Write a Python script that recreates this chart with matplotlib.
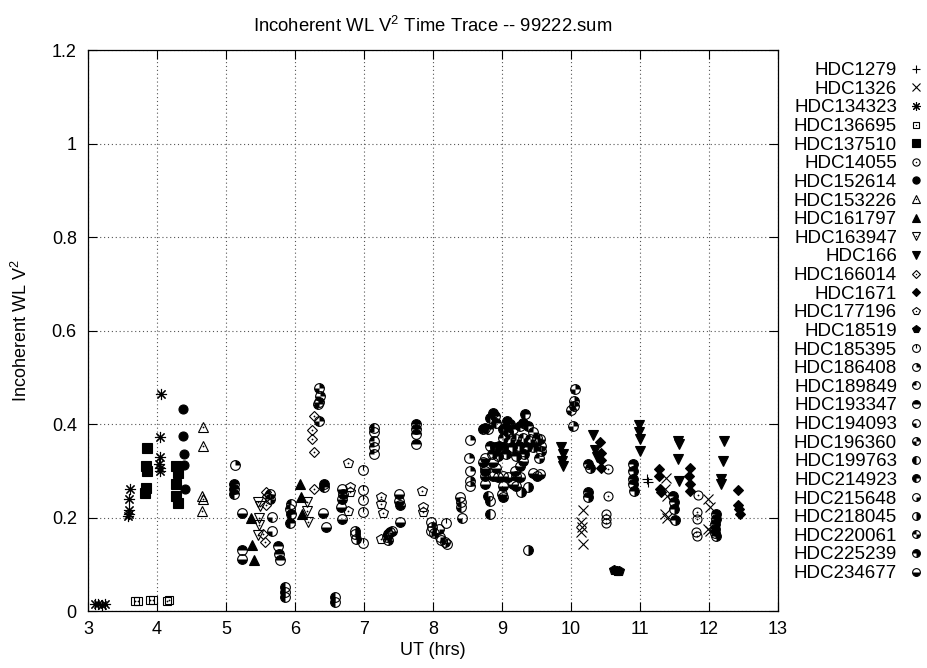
import matplotlib
matplotlib.use('Agg')
import matplotlib.pyplot as plt
from matplotlib.path import Path
from matplotlib.markers import MarkerStyle
from matplotlib.ticker import FormatStrFormatter

plt.rcParams['font.family'] = ['Liberation Sans', 'DejaVu Sans']
plt.rcParams['mathtext.fontset'] = 'custom'
plt.rcParams['mathtext.rm'] = 'Liberation Sans'
plt.rcParams['mathtext.it'] = 'Liberation Sans:italic'
plt.rcParams['font.size'] = 13

# UT (hrs) and incoherent white-light V^2 per calibrator star
x_hdc1279 = [11.10, 11.12]
y_hdc1279 = [0.282, 0.277]
x_hdc1326 = [10.18, 10.15, 10.16, 10.15, 10.18, 11.37, 11.36, 11.39, 11.36, 11.39, 11.99, 12.01, 11.99, 12.01]
y_hdc1326 = [0.216, 0.190, 0.180, 0.169, 0.144, 0.284, 0.261, 0.247, 0.208, 0.200, 0.240, 0.222, 0.176, 0.172]
x_hdc134323 = [3.10, 3.15, 3.20, 3.25, 3.61, 3.60, 3.59, 3.59, 3.58, 4.06, 4.04, 4.05, 4.03, 4.04, 4.05]
y_hdc134323 = [0.014, 0.015, 0.013, 0.014, 0.262, 0.240, 0.217, 0.208, 0.203, 0.464, 0.372, 0.330, 0.315, 0.305, 0.300]
x_hdc136695 = [3.68, 3.72, 3.90, 3.94, 4.14, 4.18]
y_hdc136695 = [0.021, 0.022, 0.024, 0.023, 0.022, 0.023]
x_hdc137510 = [3.85, 3.84, 3.85, 3.84, 3.83, 4.27, 4.30, 4.27, 4.28, 4.30]
y_hdc137510 = [0.349, 0.310, 0.300, 0.264, 0.253, 0.310, 0.296, 0.272, 0.247, 0.232]
x_hdc14055 = [10.53, 10.53, 10.51, 10.51, 10.50, 11.84, 11.83, 11.82, 11.81, 11.82]
y_hdc14055 = [0.303, 0.247, 0.207, 0.196, 0.189, 0.249, 0.211, 0.197, 0.169, 0.160]
x_hdc152614 = [4.38, 4.38, 4.39, 4.39, 4.40]
y_hdc152614 = [0.432, 0.375, 0.336, 0.313, 0.262]
x_hdc153226 = [4.67, 4.66, 4.65, 4.66, 4.65]
y_hdc153226 = [0.394, 0.353, 0.245, 0.240, 0.213]
x_hdc161797 = [5.36, 5.38, 5.40, 6.07, 6.09, 6.10]
y_hdc161797 = [0.199, 0.142, 0.110, 0.272, 0.243, 0.208]
x_hdc163947 = [5.46, 5.48, 5.48, 5.46, 5.50, 6.18, 6.18, 6.19]
y_hdc163947 = [0.233, 0.200, 0.183, 0.162, 0.225, 0.233, 0.215, 0.190]
x_hdc166 = [9.86, 9.88, 9.87, 9.88, 10.32, 10.35, 10.37, 10.98, 10.99, 11.00, 11.00,
            11.55, 11.56, 11.55, 11.57, 12.21, 12.20, 12.18, 12.18]
y_hdc166 = [0.350, 0.336, 0.320, 0.311, 0.376, 0.344, 0.330, 0.397, 0.382, 0.367, 0.343,
            0.364, 0.357, 0.325, 0.279, 0.364, 0.321, 0.282, 0.272]
x_hdc166014 = [5.58, 5.59, 5.58, 5.54, 5.56, 6.27, 6.25, 6.25, 6.28, 6.28]
y_hdc166014 = [0.254, 0.247, 0.226, 0.165, 0.147, 0.417, 0.387, 0.367, 0.340, 0.260]
x_hdc1671 = [10.42, 10.43, 10.43, 10.44, 11.28, 11.27, 11.29, 11.30, 11.72, 11.71, 11.73, 11.72,
             12.42, 12.42, 12.43, 12.45]
y_hdc1671 = [0.362, 0.337, 0.323, 0.307, 0.303, 0.289, 0.261, 0.255, 0.306, 0.289, 0.272, 0.257,
             0.259, 0.226, 0.219, 0.208]
x_hdc177196 = [6.77, 6.80, 6.80, 6.77, 7.25, 7.24, 7.27, 7.24, 7.84, 7.86, 7.86]
y_hdc177196 = [0.316, 0.265, 0.254, 0.215, 0.243, 0.229, 0.209, 0.153, 0.256, 0.222, 0.211]
x_hdc18519 = [10.62, 10.66, 10.69]
y_hdc18519 = [0.087, 0.086, 0.085]
x_hdc185395 = [6.98, 6.98, 6.99, 6.99, 6.99, 8.19, 8.20]
y_hdc185395 = [0.301, 0.259, 0.238, 0.211, 0.145, 0.188, 0.144]
x_hdc186408 = [5.13, 8.53, 8.52, 8.53, 8.53, 8.54]
y_hdc186408 = [0.312, 0.365, 0.327, 0.300, 0.279, 0.268]
x_hdc189849 = [7.14, 7.14, 7.14, 7.14, 7.15, 5.94, 5.93]
y_hdc189849 = [0.392, 0.382, 0.364, 0.350, 0.336, 0.229, 0.219]
x_hdc193347 = [5.23, 5.76, 5.77, 5.78, 7.75, 7.75, 7.76, 7.75]
y_hdc193347 = [0.131, 0.140, 0.123, 0.110, 0.400, 0.389, 0.378, 0.358]
x_hdc194093 = [5.66, 5.67, 8.39, 8.40, 8.40, 8.42]
y_hdc194093 = [0.202, 0.172, 0.243, 0.233, 0.222, 0.200]
x_hdc196360 = [6.35, 6.36, 6.35, 6.34, 6.35, 10.06, 10.05, 10.05, 10.03, 10.00]
y_hdc196360 = [0.477, 0.461, 0.447, 0.442, 0.406, 0.474, 0.449, 0.438, 0.396, 0.431]
x_hdc199763 = [5.85, 5.85, 5.86, 6.58, 6.58, 8.83, 8.80, 8.83]
y_hdc199763 = [0.052, 0.041, 0.030, 0.030, 0.020, 0.208, 0.247, 0.236]
x_hdc214923 = [5.12, 5.12, 5.12, 6.42, 6.42, 5.94, 5.93, 8.87, 8.90, 8.83, 8.75, 8.73, 8.80,
               8.92, 9.07, 9.12, 9.02, 9.09, 9.16, 9.33, 9.31, 9.26, 9.38]
y_hdc214923 = [0.272, 0.261, 0.250, 0.272, 0.265, 0.208, 0.188, 0.424, 0.417, 0.413, 0.392, 0.389, 0.389,
               0.403, 0.406, 0.399, 0.389, 0.382, 0.389, 0.421, 0.403, 0.396, 0.396]
x_hdc215648 = [7.97, 7.98, 7.97, 8.02, 8.09, 8.10, 8.12, 8.17]
y_hdc215648 = [0.190, 0.180, 0.171, 0.167, 0.176, 0.158, 0.151, 0.148]
x_hdc218045 = [9.38, 6.87, 6.87, 6.88, 9.28, 9.38]
y_hdc218045 = [0.131, 0.172, 0.165, 0.155, 0.254, 0.265]
x_hdc220061 = [7.35, 7.37, 7.40, 7.33, 7.35, 5.64, 5.64, 9.45, 9.50, 9.55, 9.57, 9.57, 9.53,
               9.02, 9.12, 9.21, 9.31, 9.41]
y_hdc220061 = [0.165, 0.169, 0.171, 0.158, 0.151, 0.250, 0.240, 0.382, 0.371, 0.367, 0.353, 0.343, 0.328,
               0.371, 0.367, 0.367, 0.371, 0.367]
x_hdc225239 = [10.25, 10.27, 10.25, 10.25, 10.90, 10.90, 10.90, 10.90, 10.91, 11.48, 11.49, 11.49, 11.50,
               12.10, 12.10, 12.09, 12.09, 12.09, 12.10, 8.83, 8.90, 8.96, 9.02, 9.14, 9.24, 9.36, 9.45,
               8.85, 8.94, 9.06, 9.20, 9.32]
y_hdc225239 = [0.314, 0.307, 0.254, 0.243, 0.314, 0.300, 0.282, 0.272, 0.257, 0.247, 0.233, 0.219, 0.194,
               0.208, 0.197, 0.187, 0.176, 0.166, 0.160, 0.353, 0.350, 0.353, 0.350, 0.350, 0.353, 0.350, 0.350,
               0.336, 0.332, 0.336, 0.332, 0.336]
x_hdc234677 = [5.23, 5.23, 6.41, 6.45, 6.68, 6.69, 6.68, 6.66, 6.68, 7.51, 7.51, 7.52, 7.52,
               8.75, 8.73, 8.87, 8.92, 9.31, 9.26, 8.75, 8.75, 8.75, 8.75, 8.87, 8.94, 9.02, 9.09,
               9.19, 9.21, 9.26, 9.16, 9.21, 9.02, 9.00, 9.02, 9.45, 9.50, 9.55]
y_hdc234677 = [0.210, 0.112, 0.209, 0.180, 0.260, 0.250, 0.240, 0.222, 0.197, 0.250, 0.236, 0.226, 0.191,
               0.328, 0.318, 0.318, 0.307, 0.321, 0.311, 0.307, 0.300, 0.289, 0.272, 0.289, 0.286, 0.289, 0.286,
               0.300, 0.289, 0.286, 0.272, 0.268, 0.268, 0.250, 0.243, 0.296, 0.289, 0.293]

stars = ['HDC1279', 'HDC1326', 'HDC134323', 'HDC136695', 'HDC137510', 'HDC14055',
         'HDC152614', 'HDC153226', 'HDC161797', 'HDC163947', 'HDC166', 'HDC166014',
         'HDC1671', 'HDC177196', 'HDC18519', 'HDC185395', 'HDC186408', 'HDC189849',
         'HDC193347', 'HDC194093', 'HDC196360', 'HDC199763', 'HDC214923', 'HDC215648',
         'HDC218045', 'HDC220061', 'HDC225239', 'HDC234677']
series = [
    (x_hdc1279, y_hdc1279), (x_hdc1326, y_hdc1326), (x_hdc134323, y_hdc134323),
    (x_hdc136695, y_hdc136695), (x_hdc137510, y_hdc137510), (x_hdc14055, y_hdc14055),
    (x_hdc152614, y_hdc152614), (x_hdc153226, y_hdc153226), (x_hdc161797, y_hdc161797),
    (x_hdc163947, y_hdc163947), (x_hdc166, y_hdc166), (x_hdc166014, y_hdc166014),
    (x_hdc1671, y_hdc1671), (x_hdc177196, y_hdc177196), (x_hdc18519, y_hdc18519),
    (x_hdc185395, y_hdc185395), (x_hdc186408, y_hdc186408), (x_hdc189849, y_hdc189849),
    (x_hdc193347, y_hdc193347), (x_hdc194093, y_hdc194093), (x_hdc196360, y_hdc196360),
    (x_hdc199763, y_hdc199763), (x_hdc214923, y_hdc214923), (x_hdc215648, y_hdc215648),
    (x_hdc218045, y_hdc218045), (x_hdc220061, y_hdc220061), (x_hdc225239, y_hdc225239),
    (x_hdc234677, y_hdc234677),
]

# gnuplot-like point types, in plotting order
# (marker, size, filled, centre dot) for the first 15, quadrant sets for the circles
plain_types = [
    ('+', 7.5, False, False), ('x', 6.5, False, False), ((8, 2, 0), 8.0, False, False),
    ('s', 6.0, False, True), ('s', 6.5, True, False), ('o', 6.5, False, True),
    ('o', 6.5, True, False), ('^', 7.0, False, True), ('^', 7.0, True, False),
    ('v', 7.0, False, True), ('v', 7.0, True, False), ('D', 5.0, False, True),
    ('D', 5.0, True, False), ('p', 7.0, False, True), ('p', 7.0, True, False),
]
# filled quadrants: 0 upper right, 1 upper left, 2 lower left, 3 lower right
circle_fills = [None, [0], [1], [0, 1], [2], [0, 2], [1, 2], [0, 1, 2],
                [3], [3, 0], [3, 1], [3, 0, 1], [2, 3]]
CIRC_MS = 7.0
LW = 0.8


def quadrant_marker(quads):
    if quads is None:
        # open circle with a radius drawn to the top
        return MarkerStyle(Path([(0, 0), (0, 1)], [Path.MOVETO, Path.LINETO]))
    parts = [Path.wedge(90 * q, 90 * (q + 1)) for q in quads]
    return MarkerStyle(Path.make_compound_path(*parts))


fig = plt.figure(figsize=(9.27, 6.68), dpi=100)
ax = fig.add_axes([0.0949, 0.0853, 0.7444, 0.8398])

handles = []
for i, (xs, ys) in enumerate(series):
    if i < len(plain_types):
        mk, ms, filled, dot = plain_types[i]
        ln, = ax.plot(xs, ys, ls='none', marker=mk, ms=ms, mew=LW, mec='black',
                      mfc='black' if filled else 'none')
        parts = [ln]
        if dot:
            d, = ax.plot(xs, ys, ls='none', marker='o', ms=1.3, mew=0,
                         mfc='black')
            parts.append(d)
    else:
        quads = circle_fills[i - len(plain_types)]
        ring, = ax.plot(xs, ys, ls='none', marker='o', ms=CIRC_MS, mew=LW,
                        mec='black', mfc='none')
        if quads is None:
            inner, = ax.plot(xs, ys, ls='none', marker=quadrant_marker(None),
                             ms=CIRC_MS, mew=LW, mec='black', mfc='none')
        else:
            inner, = ax.plot(xs, ys, ls='none', marker=quadrant_marker(quads),
                             ms=CIRC_MS, mew=0, mfc='black')
        parts = [ring, inner]
    handles.append(tuple(parts))

ax.set_xlim(3, 13)
ax.set_ylim(0, 1.2)
ax.set_xticks(range(3, 14))
ax.set_yticks([0, 0.2, 0.4, 0.6, 0.8, 1.0, 1.2])
ax.yaxis.set_major_formatter(FormatStrFormatter('%g'))
ax.tick_params(direction='in', top=True, right=True, length=6.5, width=0.8,
               labelsize=13)
ax.tick_params(axis='x', pad=7)
ax.tick_params(axis='y', pad=8)
for sp in ax.spines.values():
    sp.set_linewidth(0.9)
ax.grid(True, linestyle=(0, (1, 2.5)), color='#555555', linewidth=0.8)
ax.set_axisbelow(True)

ax.set_title(r'Incoherent WL V$^2$ Time Trace -- 99222.sum', fontsize=13.3, pad=13)
ax.set_xlabel('UT (hrs)', fontsize=13)
ax.set_ylabel(r'Incoherent WL V$^2$', fontsize=13)
ax.xaxis.set_label_coords(0.5, -0.055)
ax.yaxis.set_label_coords(-0.083, 0.5)

fig.legend(handles, stars, loc='upper right', bbox_to_anchor=(0.998, 0.907),
           frameon=False, markerfirst=False, numpoints=1, handlelength=1.0,
           handletextpad=0.5, labelspacing=0.08, borderpad=0, borderaxespad=0,
           fontsize=13.5, markerscale=0.8)

fig.savefig('out.png', dpi=100)
